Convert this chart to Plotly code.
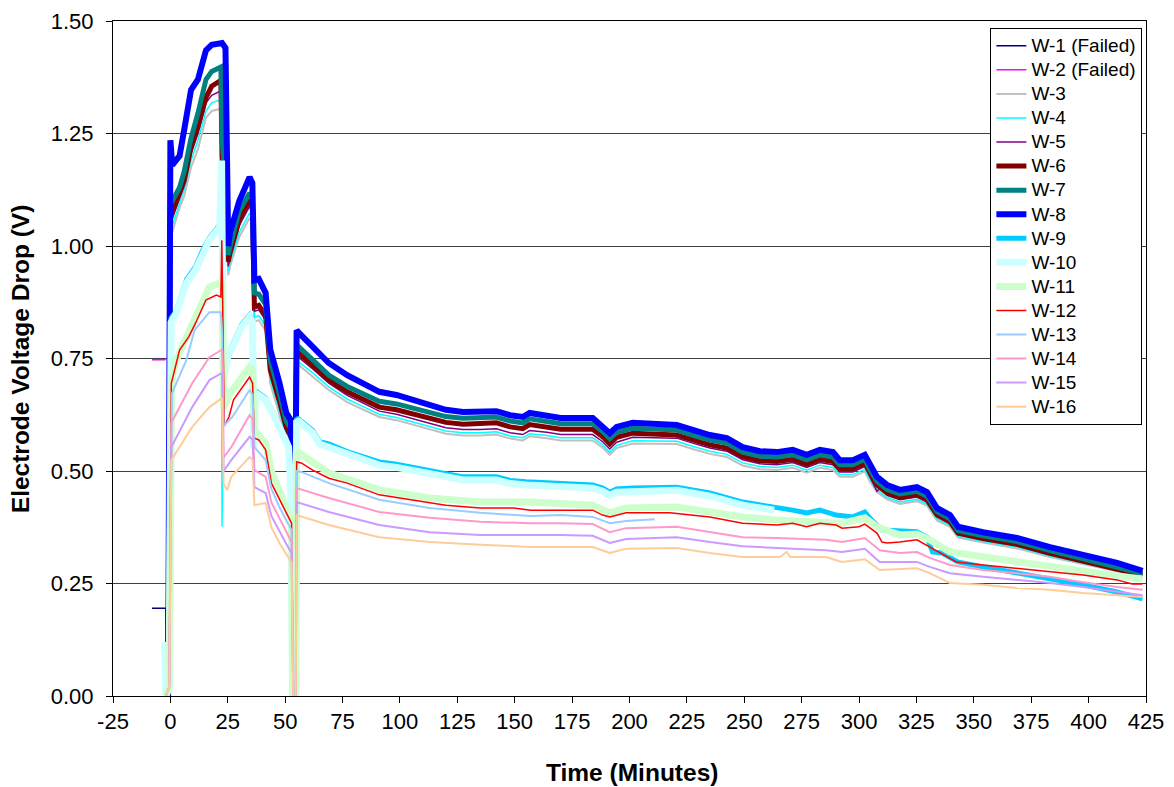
import plotly.graph_objects as go

# ---- electrode voltage-drop records (time in minutes, volts) ----

# W-1 and W-2 failed shortly before the run started
W1_T = [-8, -2, -1.5, 0]
W1_V = [0.195, 0.195, 0.0, 0.025]
W2_T = [-8, -2.5, -2]
W2_V = [0.747, 0.747, 0.75]

# shared sample times for the high-voltage group (W-3 .. W-8)
T_UPPER = [-1, 0, 0.8, 4, 6, 9, 12, 15.5, 18, 22,
           22.5, 24, 24.6, 25.2, 26, 30, 34.5, 35.7, 36.6, 38.5,
           41.5, 43.5, 47.5, 50.5, 52.5, 53.2, 54.5, 55, 56, 62,
           69, 77, 84, 91, 98.5, 105.5, 113, 120, 127.5, 135,
           142, 148, 153.5, 156.5, 164, 170, 184, 188.3, 191.4, 194.4,
           201.4, 220.6, 227.5, 235, 242.4, 249.3, 256.8, 264.2, 271.1, 277.2,
           282.9, 288.6, 291.6, 297.3, 302.5, 304.7, 307.8, 310, 312.2, 317.8,
           325.2, 329.6, 333.9, 339.6, 343.1, 354, 368.8, 383.2, 397.6, 412.4,
           423.5]

W8_V = [0.0, 1.235, 1.18, 1.20, 1.258, 1.347, 1.37, 1.435, 1.447, 1.451,
        1.451, 1.44, 1.20, 1.00, 1.03, 1.10, 1.153, 1.14, 0.924, 0.927,
        0.896, 0.77, 0.696, 0.629, 0.613, 0.458, 0.47, 0.813, 0.807, 0.776,
        0.74, 0.713, 0.696, 0.676, 0.669, 0.658, 0.647, 0.636, 0.631, 0.631,
        0.633, 0.624, 0.62, 0.629, 0.624, 0.618, 0.618, 0.60, 0.584, 0.598,
        0.607, 0.602, 0.591, 0.58, 0.573, 0.553, 0.544, 0.542, 0.547, 0.536,
        0.547, 0.542, 0.524, 0.524, 0.536, 0.513, 0.487, 0.478, 0.469, 0.458,
        0.464, 0.453, 0.418, 0.402, 0.376, 0.364, 0.351, 0.331, 0.313, 0.296,
        0.278]

W7_V = [0.0, 1.10, 1.10, 1.13, 1.165, 1.24, 1.295, 1.37, 1.388, 1.398,
        1.235, 1.15, 1.08, 0.98, 1.0, 1.078, 1.118, 1.105, 0.896, 0.893,
        0.87, 0.745, 0.672, 0.61, 0.595, 0.59, 0.59, 0.78, 0.776, 0.748,
        0.713, 0.688, 0.672, 0.655, 0.649, 0.64, 0.631, 0.621, 0.617, 0.618,
        0.62, 0.611, 0.607, 0.616, 0.611, 0.605, 0.605, 0.588, 0.572, 0.586,
        0.595, 0.591, 0.58, 0.569, 0.562, 0.542, 0.533, 0.531, 0.536, 0.525,
        0.536, 0.531, 0.514, 0.514, 0.526, 0.503, 0.477, 0.468, 0.459, 0.449,
        0.455, 0.444, 0.41, 0.394, 0.368, 0.356, 0.343, 0.323, 0.305, 0.288,
        0.272]

W6_V = [0.0, 1.08, 1.075, 1.115, 1.145, 1.22, 1.265, 1.33, 1.355, 1.368,
        1.197, 1.12, 1.05, 0.965, 0.985, 1.058, 1.102, 1.09, 0.864, 0.868,
        0.845, 0.725, 0.655, 0.595, 0.58, 0.575, 0.575, 0.765, 0.762, 0.735,
        0.702, 0.676, 0.66, 0.642, 0.636, 0.627, 0.618, 0.608, 0.604, 0.605,
        0.607, 0.598, 0.594, 0.603, 0.598, 0.593, 0.593, 0.576, 0.56, 0.575,
        0.584, 0.58, 0.569, 0.558, 0.551, 0.532, 0.523, 0.521, 0.526, 0.515,
        0.526, 0.521, 0.505, 0.505, 0.517, 0.495, 0.469, 0.46, 0.451, 0.441,
        0.447, 0.436, 0.403, 0.387, 0.362, 0.35, 0.337, 0.317, 0.3, 0.283,
        0.268]

W5_V = [0.0, 1.07, 1.06, 1.105, 1.135, 1.205, 1.25, 1.318, 1.335, 1.345,
        1.18, 1.10, 1.04, 0.955, 0.975, 1.045, 1.088, 1.075, 0.855, 0.858,
        0.835, 0.715, 0.645, 0.585, 0.57, 0.565, 0.565, 0.755, 0.752, 0.727,
        0.695, 0.668, 0.651, 0.633, 0.626, 0.616, 0.606, 0.596, 0.592, 0.592,
        0.594, 0.585, 0.581, 0.59, 0.586, 0.581, 0.581, 0.565, 0.549, 0.564,
        0.575, 0.573, 0.562, 0.551, 0.544, 0.525, 0.516, 0.514, 0.519, 0.508,
        0.519, 0.514, 0.498, 0.498, 0.51, 0.488, 0.455, 0.465, 0.446, 0.436,
        0.442, 0.431, 0.398, 0.383, 0.358, 0.347, 0.334, 0.314, 0.297, 0.281,
        0.266]

W4_V = [0.0, 1.05, 1.045, 1.095, 1.125, 1.19, 1.235, 1.30, 1.318, 1.325,
        0.376, 1.08, 1.03, 0.945, 0.965, 1.03, 1.073, 1.06, 0.842, 0.845,
        0.822, 0.705, 0.635, 0.575, 0.56, 0.555, 0.555, 0.745, 0.742, 0.718,
        0.687, 0.66, 0.643, 0.626, 0.619, 0.609, 0.599, 0.589, 0.585, 0.585,
        0.587, 0.578, 0.574, 0.583, 0.579, 0.574, 0.574, 0.558, 0.542, 0.557,
        0.567, 0.566, 0.555, 0.544, 0.537, 0.518, 0.51, 0.508, 0.513, 0.502,
        0.513, 0.508, 0.492, 0.492, 0.504, 0.482, 0.458, 0.449, 0.441, 0.431,
        0.437, 0.427, 0.394, 0.379, 0.355, 0.344, 0.331, 0.311, 0.295, 0.279,
        0.264]

W3_V = [0.0, 1.04, 1.03, 1.085, 1.11, 1.175, 1.215, 1.285, 1.30, 1.305,
        1.17, 1.07, 1.02, 0.935, 0.955, 1.02, 1.062, 1.05, 0.832, 0.835,
        0.812, 0.695, 0.625, 0.565, 0.55, 0.545, 0.545, 0.74, 0.735, 0.71,
        0.68, 0.653, 0.637, 0.62, 0.613, 0.603, 0.593, 0.583, 0.579, 0.579,
        0.581, 0.572, 0.568, 0.577, 0.573, 0.568, 0.568, 0.552, 0.536, 0.551,
        0.561, 0.56, 0.549, 0.538, 0.531, 0.512, 0.504, 0.502, 0.507, 0.496,
        0.507, 0.502, 0.487, 0.487, 0.499, 0.477, 0.453, 0.444, 0.437, 0.427,
        0.433, 0.423, 0.39, 0.376, 0.352, 0.341, 0.328, 0.309, 0.293, 0.277,
        0.262]

# low-voltage group (W-9 .. W-16), each with its own sample times
W9_T = [-2, -0.5, 0.3, 2.5, 7, 11, 14, 17, 21.5, 22.3,
        23, 25, 31, 34.5, 35.8, 36.3, 37.2, 41.5, 46, 48.5,
        51.5, 52.5, 53.2, 54.6, 55, 56, 62, 65, 69, 77,
        91, 98.5, 113, 127.5, 142, 148, 155, 170, 184, 188.3,
        191.4, 194.4, 201.4, 220.6, 235, 249.3, 264.2, 271.1, 277.2, 282.9,
        290, 297.3, 302.5, 305.5, 310, 325.2, 329.6, 332, 336, 343,
        354, 368.8, 383.2, 397.6, 412.4, 423.5]
W9_V = [0.0, 0.02, 0.84, 0.855, 0.925, 0.954, 0.99, 1.018, 1.047, 1.05,
        0.72, 0.758, 0.825, 0.847, 0.835, 0.56, 0.678, 0.662, 0.618, 0.59,
        0.558, 0.455, 0.0, 0.0, 0.618, 0.615, 0.59, 0.565, 0.56, 0.543,
        0.52, 0.515, 0.5, 0.487, 0.487, 0.479, 0.476, 0.473, 0.469, 0.462,
        0.453, 0.46, 0.462, 0.464, 0.451, 0.431, 0.42, 0.413, 0.407, 0.413,
        0.402, 0.398, 0.409, 0.391, 0.369, 0.365, 0.353, 0.32, 0.318, 0.298,
        0.287, 0.273, 0.262, 0.247, 0.231, 0.216]

W10_T = [-2.5, -2, -0.5, 0.3, 2.5, 7, 11, 14, 17, 21.5,
         22.3, 23, 25, 31, 34.5, 35.8, 36.3, 37.2, 41.5, 46,
         48.5, 51.5, 52.5, 53.2, 54.6, 55, 56, 62, 65, 69,
         77, 91, 98.5, 113, 127.5, 142, 148, 155, 170, 184,
         188.3, 191.4, 194.4, 201.4, 220.6, 235, 249.3, 263]
W10_V = [0.12, 0.0, 0.02, 0.83, 0.85, 0.918, 0.947, 0.984, 1.013, 1.042,
         1.19, 0.70, 0.753, 0.82, 0.842, 0.83, 0.55, 0.673, 0.658, 0.613,
         0.584, 0.553, 0.451, 0.0, 0.0, 0.613, 0.61, 0.585, 0.56, 0.553,
         0.536, 0.513, 0.508, 0.493, 0.48, 0.48, 0.472, 0.469, 0.466, 0.462,
         0.455, 0.446, 0.453, 0.455, 0.457, 0.444, 0.424, 0.413]

W11_T = [-2, -0.5, 0.5, 2, 7, 12.5, 17, 22, 22.6, 23.2,
         26, 34.5, 35.8, 36.6, 41.5, 44, 48, 51.5, 52.8, 53.3,
         54.6, 55, 56, 69, 91, 113, 135, 157, 170, 184,
         191.4, 198.5, 220.6, 235, 249.3, 264.2, 278.5, 293, 302.5, 307.8,
         314, 317.8, 325.2, 330.8, 339.6, 354, 368.8, 383.2, 397.6, 412.4,
         423.5]
W11_V = [0.0, 0.02, 0.70, 0.74, 0.798, 0.864, 0.909, 0.918, 0.91, 0.64,
         0.673, 0.731, 0.725, 0.591, 0.562, 0.50, 0.45, 0.41, 0.39, 0.0,
         0.0, 0.545, 0.54, 0.496, 0.458, 0.44, 0.431, 0.431, 0.429, 0.424,
         0.407, 0.418, 0.42, 0.409, 0.398, 0.391, 0.387, 0.384, 0.396, 0.376,
         0.364, 0.358, 0.36, 0.347, 0.32, 0.309, 0.298, 0.287, 0.276, 0.267,
         0.26]

W12_T = [-2, -0.5, 0.4, 4, 8, 11, 15.5, 20, 22, 22.4,
         23.5, 25.5, 27.5, 34.5, 35.8, 36.6, 38.5, 41.5, 44, 47.5,
         50.5, 52.8, 53.5, 54.6, 55, 57, 62, 69, 77, 91,
         105.5, 120, 135, 149.5, 157, 170, 184, 188.3, 191.4, 198.5,
         217.5, 235, 249.3, 264.2, 271.1, 277.2, 282.9, 290, 292.6, 300,
         302.5, 307.8, 310, 312.2, 317.8, 325.2, 330.8, 335, 342.4, 354,
         368.8, 383.2, 397.6, 412.4, 419, 423.5]
W12_V = [0.0, 0.02, 0.695, 0.769, 0.798, 0.829, 0.88, 0.891, 0.887, 1.013,
         0.60, 0.62, 0.658, 0.709, 0.695, 0.573, 0.569, 0.547, 0.473, 0.436,
         0.407, 0.384, 0.0, 0.0, 0.52, 0.518, 0.502, 0.484, 0.473, 0.447,
         0.436, 0.424, 0.418, 0.418, 0.413, 0.413, 0.413, 0.402, 0.398, 0.407,
         0.407, 0.398, 0.384, 0.38, 0.384, 0.376, 0.384, 0.38, 0.373, 0.376,
         0.382, 0.362, 0.342, 0.34, 0.342, 0.347, 0.331, 0.318, 0.298, 0.291,
         0.284, 0.276, 0.269, 0.258, 0.249, 0.249]

W13_T = [-2, -0.5, 0.7, 7, 10.5, 17, 22, 22.6, 23.2, 27,
         34.5, 35.8, 36.6, 41.5, 44, 47.5, 50.5, 52.8, 53.5, 54.6,
         55, 57, 69, 91, 113, 135, 157, 170, 184, 191.4,
         198.5, 211]
W13_V = [0.0, 0.02, 0.673, 0.747, 0.813, 0.853, 0.853, 0.80, 0.60, 0.62,
         0.68, 0.67, 0.553, 0.524, 0.46, 0.42, 0.39, 0.369, 0.0, 0.0,
         0.50, 0.498, 0.473, 0.436, 0.418, 0.407, 0.40, 0.402, 0.398, 0.384,
         0.389, 0.393]

W14_T = [-2, -0.5, 0.4, 9.5, 17, 22, 22.6, 23.2, 26.5, 34.5,
         35.8, 36.6, 41.5, 44, 47.5, 50.5, 52.8, 53.5, 54.6, 55,
         69, 91, 113, 135, 157, 170, 184, 191.4, 198.5, 220.6,
         235, 249.3, 264.2, 285.5, 292.6, 302.5, 309, 317.8, 325.2, 330.8,
         339.6, 354, 368.8, 383.2, 397.6, 412.4, 423.5]
W14_V = [0.0, 0.02, 0.607, 0.695, 0.753, 0.769, 0.77, 0.53, 0.553, 0.624,
         0.615, 0.502, 0.487, 0.43, 0.395, 0.365, 0.342, 0.0, 0.0, 0.462,
         0.44, 0.409, 0.396, 0.387, 0.384, 0.384, 0.382, 0.364, 0.373, 0.376,
         0.364, 0.353, 0.351, 0.347, 0.342, 0.351, 0.324, 0.318, 0.32, 0.307,
         0.291, 0.28, 0.273, 0.265, 0.253, 0.242, 0.236]

W15_T = [-2, -0.5, 0.4, 9.5, 17, 22.5, 23.2, 26.5, 34.5, 35.8,
         36.6, 41.5, 44, 47.5, 50.5, 52.8, 53.5, 54.6, 55, 69,
         91, 113, 135, 157, 170, 184, 191.4, 198.5, 220.6, 235,
         249.3, 264.2, 285.5, 292.6, 302.5, 309, 325.2, 330.8, 339.6, 354,
         368.8, 383.2, 397.6, 412.4, 423.5]
W15_V = [0.0, 0.02, 0.553, 0.642, 0.702, 0.718, 0.50, 0.524, 0.576, 0.57,
         0.464, 0.451, 0.40, 0.365, 0.338, 0.318, 0.0, 0.0, 0.431, 0.409,
         0.38, 0.364, 0.358, 0.358, 0.358, 0.356, 0.34, 0.349, 0.353, 0.342,
         0.333, 0.329, 0.324, 0.32, 0.327, 0.298, 0.298, 0.287, 0.273, 0.265,
         0.258, 0.251, 0.242, 0.231, 0.224]

W16_T = [-2, -0.5, 0.4, 9.5, 17, 22.5, 23.2, 24.8, 26.5, 34.5,
         35.8, 36.6, 41.5, 44, 47.5, 50.5, 52.8, 53.5, 54.6, 55,
         69, 91, 113, 135, 157, 170, 184, 191.4, 198.5, 220.6,
         235, 249.3, 265.5, 268.5, 270, 285.5, 292.6, 302.5, 309, 325.2,
         330.8, 339.6, 354, 368.8, 383.2, 397.6, 412.4, 423.5]
W16_V = [0.0, 0.02, 0.524, 0.598, 0.642, 0.662, 0.47, 0.458, 0.487, 0.531,
         0.525, 0.424, 0.429, 0.375, 0.34, 0.315, 0.296, 0.0, 0.0, 0.402,
         0.38, 0.353, 0.342, 0.336, 0.331, 0.331, 0.331, 0.318, 0.327, 0.329,
         0.318, 0.309, 0.309, 0.32, 0.309, 0.309, 0.298, 0.304, 0.28, 0.284,
         0.273, 0.251, 0.247, 0.24, 0.236, 0.229, 0.224, 0.22]

# name, times, values, colour, width
SERIES = [
    ("W-1 (Failed)", W1_T, W1_V, "#000080", 1.5),
    ("W-2 (Failed)", W2_T, W2_V, "#FF00FF", 1.5),
    ("W-3", T_UPPER, W3_V, "#C0C0C0", 2),
    ("W-4", T_UPPER, W4_V, "#00FFFF", 1.5),
    ("W-5", T_UPPER, W5_V, "#800080", 1.5),
    ("W-6", T_UPPER, W6_V, "#800000", 5),
    ("W-7", T_UPPER, W7_V, "#008080", 5),
    ("W-8", T_UPPER, W8_V, "#0000FF", 6),
    ("W-9", W9_T, W9_V, "#00CCFF", 5),
    ("W-10", W10_T, W10_V, "#CCFFFF", 7),
    ("W-11", W11_T, W11_V, "#CCFFCC", 7),
    ("W-12", W12_T, W12_V, "#FF0000", 1.5),
    ("W-13", W13_T, W13_V, "#99CCFF", 2),
    ("W-14", W14_T, W14_V, "#FF99CC", 2),
    ("W-15", W15_T, W15_V, "#CC99FF", 2),
    ("W-16", W16_T, W16_V, "#FFCC99", 2),
]

X_TICKS = list(range(-25, 426, 25))
Y_TICKS = [0.0, 0.25, 0.5, 0.75, 1.0, 1.25, 1.5]
X_TITLE = "Time (Minutes)"
Y_TITLE = "Electrode Voltage Drop (V)"

FONT = "Arial, Liberation Sans, sans-serif"

fig = go.Figure()
for name, t, v, colour, width in SERIES:
    fig.add_trace(go.Scatter(
        x=t, y=v, mode="lines",
        name=f'<span style="font-size:19px">{name}</span>',
        line=dict(color=colour, width=width),
    ))

fig.update_layout(
    width=1174, height=787,
    margin=dict(l=113, r=28, t=21, b=91),
    paper_bgcolor="white", plot_bgcolor="white",
    font=dict(family=FONT, color="black"),
    showlegend=True,
    legend=dict(
        x=0.9965, xanchor="right", y=0.99, yanchor="top",
        bgcolor="white", bordercolor="black", borderwidth=1,
        font=dict(family=FONT, size=16.2, color="black"),
        traceorder="normal",
    ),
    annotations=[
        dict(text=f"<b>{X_TITLE}</b>", xref="paper", yref="paper",
             x=0.5024, y=-0.114, xanchor="center", yanchor="middle",
             showarrow=False, font=dict(family=FONT, size=24.5, color="black")),
        dict(text=f"<b>{Y_TITLE}</b>", xref="paper", yref="paper",
             x=-0.09, y=0.499, xanchor="center", yanchor="middle", textangle=-90,
             showarrow=False, font=dict(family=FONT, size=24.5, color="black")),
    ],
)

fig.update_xaxes(
    range=[-25, 425], tickmode="array", tickvals=X_TICKS,
    ticktext=[str(v) for v in X_TICKS],
    ticks="outside", ticklen=6, tickcolor="black",
    showline=True, linecolor="black", linewidth=1, mirror=True,
    showgrid=False, zeroline=False, automargin=False,
    tickfont=dict(family=FONT, size=22, color="black"),
)
fig.update_yaxes(
    range=[0, 1.5], tickmode="array", tickvals=Y_TICKS,
    ticktext=[f"{v:.2f}" for v in Y_TICKS],
    ticks="outside", ticklen=6, tickcolor="black", ticklabelstandoff=8,
    showline=True, linecolor="black", linewidth=1, mirror=True,
    showgrid=True, gridcolor="#404040", gridwidth=1, zeroline=False, automargin=False,
    tickfont=dict(family=FONT, size=22, color="black"),
)

fig.write_html("out.html")
